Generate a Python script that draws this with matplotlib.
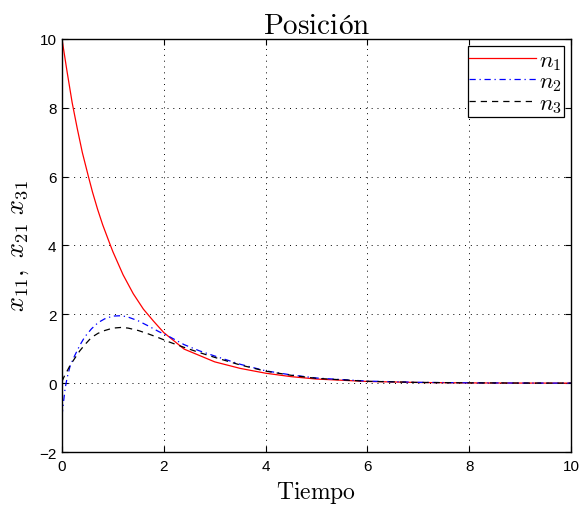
import matplotlib
matplotlib.use("Agg")
import matplotlib.pyplot as plt

plt.rcParams['mathtext.fontset'] = 'cm'
plt.rcParams['font.family'] = ['Liberation Sans', 'DejaVu Sans']

# Data
t_red = [0, 0.1, 0.2, 0.3, 0.4, 0.52, 0.6, 0.7, 0.8, 0.94, 1.0, 1.2, 1.4, 1.6, 1.8, 2.0,
         2.4, 3.0, 3.5, 4.0, 4.5, 5.0, 6.0, 7.0, 8.0, 9.0, 10.0]
n1 = [10.0, 9.05, 8.15, 7.4, 6.7, 6.0, 5.55, 5.05, 4.6, 4.05, 3.82, 3.15, 2.6, 2.15, 1.8, 1.47,
      0.99, 0.62, 0.43, 0.29, 0.19, 0.12, 0.05, 0.02, 0.008, 0.003, 0.001]

t_cur = [0, 0.03, 0.06, 0.1, 0.16, 0.25, 0.35, 0.45, 0.58, 0.71, 0.84, 1.0, 1.17, 1.3, 1.5,
         1.7, 1.9, 2.1, 2.4, 2.7, 3.0, 3.5, 4.0, 4.5, 5.0, 6.0, 7.0, 8.0, 9.0, 10.0]
n2 = [-0.95, -0.55, -0.17, 0.15, 0.5, 0.8, 1.1, 1.35, 1.58, 1.76, 1.87, 1.95, 1.96, 1.92, 1.81,
      1.66, 1.5, 1.36, 1.12, 0.94, 0.79, 0.55, 0.36, 0.24, 0.15, 0.06, 0.025, 0.01, 0.004, 0.001]
n3 = [0.05, 0.15, 0.25, 0.35, 0.52, 0.72, 0.94, 1.12, 1.33, 1.45, 1.53, 1.6, 1.62, 1.6, 1.53,
      1.43, 1.32, 1.2, 1.04, 0.89, 0.75, 0.53, 0.35, 0.23, 0.14, 0.055, 0.022, 0.009, 0.004, 0.001]

x_ticks = [0, 2, 4, 6, 8, 10]
y_ticks = [-2, 0, 2, 4, 6, 8, 10]
y_tick_labels = ['\u22122', '0', '2', '4', '6', '8', '10']

fig = plt.figure(figsize=(5.82, 5.06), dpi=100)
ax = fig.add_axes([0.1065, 0.1047, 0.8745, 0.8163])

ax.plot(t_red, n1, color='red', lw=0.9, label=r'$n_1$')
ax.plot(t_cur, n2, color='blue', lw=0.9, linestyle=(0, (5, 3, 1, 3)), label=r'$n_2$')
ax.plot(t_cur, n3, color='black', lw=0.9, linestyle=(0, (5, 4)), label=r'$n_3$')

ax.set_xlim(0, 10)
ax.set_ylim(-2, 10)
ax.set_xticks(x_ticks)
ax.set_xticklabels([str(v) for v in x_ticks])
ax.set_yticks(y_ticks)
ax.set_yticklabels(y_tick_labels)
ax.tick_params(direction='in', top=True, right=True, labelsize=11, length=4, width=0.8)
ax.tick_params(axis='x', pad=5)
ax.tick_params(axis='y', pad=4)
for s in ax.spines.values():
    s.set_linewidth(1.0)

ax.grid(True, color='black', linestyle=(0, (1, 5)), linewidth=0.7)

ax.set_title(r'$\mathrm{Posición}$', fontsize=21, pad=4)
ax.set_xlabel(r'$\mathrm{Tiempo}$', fontsize=17, labelpad=4)
ax.set_ylabel(r'$x_{11},\ x_{21}\ x_{31}$', fontsize=19, labelpad=6)

leg = ax.legend(loc='upper right', fontsize=16.5, frameon=True, fancybox=False,
                edgecolor='black', framealpha=1, borderpad=0.08, labelspacing=-0.1,
                handlelength=2.9, handletextpad=0.15, borderaxespad=0.3)
leg.get_frame().set_linewidth(0.9)

fig.savefig('out.png', dpi=100)
